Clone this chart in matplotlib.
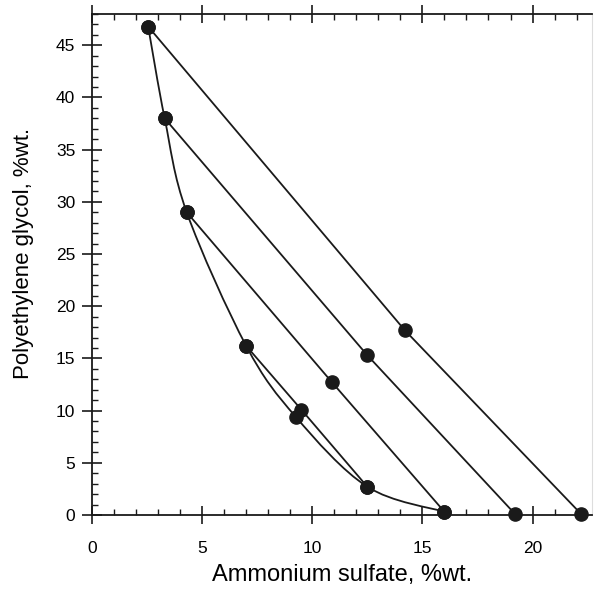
import numpy as np
import matplotlib
matplotlib.use("Agg")
import matplotlib.pyplot as plt
from matplotlib.path import Path
from matplotlib.patches import PathPatch
from matplotlib.ticker import MultipleLocator

plt.rcParams['font.family'] = ['Liberation Sans', 'DejaVu Sans']

# Binodal curve points (ammonium sulfate %, PEG %)
binodal_x = [2.55, 3.3, 4.3, 7.0, 9.25, 12.5, 16.0]
binodal_y = [46.8, 38.0, 29.0, 16.2, 9.4, 2.7, 0.3]

# Tie lines: top phase, feed, bottom phase
tie_top_x = [2.55, 3.3, 4.3, 7.0]
tie_top_y = [46.8, 38.0, 29.0, 16.2]
tie_mid_x = [14.2, 12.5, 10.9, 9.5]
tie_mid_y = [17.7, 15.3, 12.7, 10.1]
tie_bot_x = [22.2, 19.2, 16.0, 12.5]
tie_bot_y = [0.1, 0.1, 0.3, 2.7]

fig = plt.figure(figsize=(5.95, 5.96), dpi=100)
ax = fig.add_axes([0.1546, 0.136, 0.8404, 0.8405])

# smooth curve via Catmull-Rom -> cubic Bezier segments
def catmull_path(xs, ys):
    P = np.column_stack([xs, ys])
    n = len(P)
    verts = [P[0]]
    codes = [Path.MOVETO]
    for i in range(n - 1):
        p0 = P[i - 1] if i > 0 else P[i]
        p1 = P[i]
        p2 = P[i + 1]
        p3 = P[i + 2] if i + 2 < n else P[i + 1]
        c1 = p1 + (p2 - p0) / 6.0
        c2 = p2 - (p3 - p1) / 6.0
        verts += [c1, c2, p2]
        codes += [Path.CURVE4] * 3
    return Path(verts, codes)

ax.add_patch(PathPatch(catmull_path(binodal_x, binodal_y), fill=False,
                       edgecolor='#1a1a1a', lw=1.3))

for i in range(len(tie_top_x)):
    ax.plot([tie_top_x[i], tie_mid_x[i], tie_bot_x[i]],
            [tie_top_y[i], tie_mid_y[i], tie_bot_y[i]],
            color='#1a1a1a', lw=1.3, marker='o', ms=9.5,
            mfc='#1a1a1a', mec='#1a1a1a', clip_on=False, zorder=3)

ax.plot(binodal_x, binodal_y, 'o', ms=9.5, color='#1a1a1a', clip_on=False, zorder=3)

ax.set_xlim(0, 22.7)
ax.set_ylim(0, 48)
ax.xaxis.set_major_locator(MultipleLocator(5))
ax.xaxis.set_minor_locator(MultipleLocator(1))
ax.yaxis.set_major_locator(MultipleLocator(5))
ax.yaxis.set_minor_locator(MultipleLocator(1))

ax.tick_params(axis='x', which='major', direction='inout', length=13, width=1.2,
               top=True, labelsize=12.5, pad=12, color='#1a1a1a')
ax.tick_params(axis='x', which='minor', direction='in', length=4, width=1,
               top=True, color='#1a1a1a')
ax.tick_params(axis='y', which='major', direction='inout', length=14, width=1.2,
               right=False, labelsize=12.5, pad=5, color='#1a1a1a')
ax.tick_params(axis='y', which='minor', direction='in', length=4, width=1,
               right=False, color='#1a1a1a')

for s in ['left', 'bottom', 'top']:
    ax.spines[s].set_linewidth(1.3)
    ax.spines[s].set_color('#1a1a1a')
ax.spines['right'].set_color('#dddddd')
ax.spines['right'].set_linewidth(0.8)

ax.set_xlabel('Ammonium sulfate, %wt.', fontsize=17, labelpad=6)
ax.set_ylabel('Polyethylene glycol, %wt.', fontsize=16)
ax.yaxis.set_label_coords(-0.116, 0.523)

fig.savefig('out.png', dpi=100)
